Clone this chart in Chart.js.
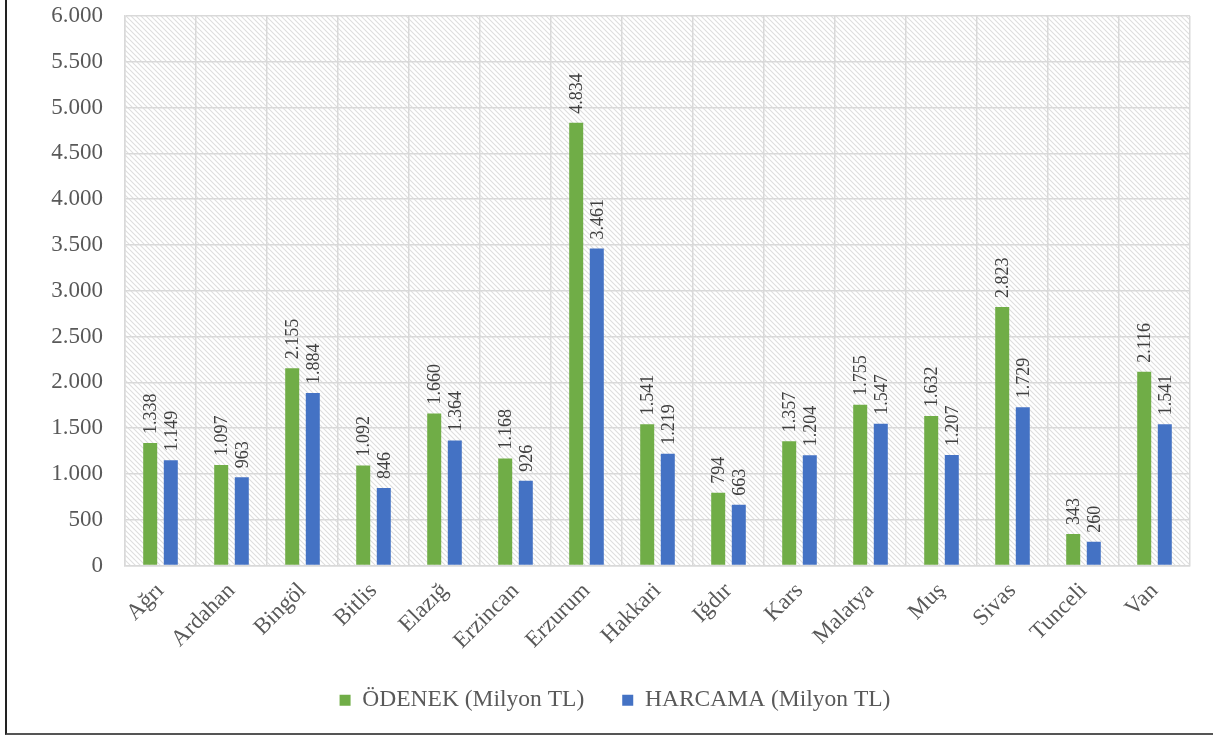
<!DOCTYPE html>
<html>
<head>
<meta charset="utf-8">
<script src="https://cdn.jsdelivr.net/npm/chart.js@4.4.1/dist/chart.umd.min.js"></script>
<style>
html,body{margin:0;padding:0;background:#fff}
#wrap{position:relative;width:1213px;height:736px;overflow:hidden}
#frame{position:absolute;left:5px;top:0;width:1230px;height:733px;border-left:2px solid #222;border-bottom:2px solid #555;pointer-events:none}
canvas{position:absolute;left:0;top:0}
</style>
</head>
<body>
<div id="wrap"><canvas id="c" width="1213" height="736"></canvas><div id="frame"></div></div>
<script>
// il listesi ve değerler (Milyon TL)
const ILLER=["Ağrı","Ardahan","Bingöl","Bitlis","Elazığ","Erzincan","Erzurum","Hakkari","Iğdır","Kars","Malatya","Muş","Sivas","Tunceli","Van"];
const ODENEK=[1338,1097,2155,1092,1660,1168,4834,1541,794,1357,1755,1632,2823,343,2116];
const HARCAMA=[1149,963,1884,846,1364,926,3461,1219,663,1204,1547,1207,1729,260,1541];
const Y_MAX=6000,Y_STEP=500;

const FONT="'Liberation Serif','Times New Roman',serif";
const GRID="#d9d9d9";

function tr(v){return String(v).replace(/\B(?=(\d{3})+(?!\d))/g,".")}

// hatched plot background
function hatch(ctx){
  const s=5,c=document.createElement("canvas");c.width=s;c.height=s;
  const g=c.getContext("2d");g.fillStyle="#fff";g.fillRect(0,0,s,s);
  g.strokeStyle="#dedede";g.lineWidth=1.1;
  g.beginPath();g.moveTo(-1,-1);g.lineTo(s+1,s+1);g.moveTo(-1,s-1);g.lineTo(1,s+1);g.moveTo(s-1,-1);g.lineTo(s+1,1);g.stroke();
  return ctx.createPattern(c,"repeat");
}
const bgPlug={id:"bg",beforeDraw(ch){const a=ch.chartArea,x=ch.ctx;x.save();x.fillStyle=hatch(x);x.fillRect(a.left,a.top,a.right-a.left,a.bottom-a.top);x.restore()}};

const lblPlug={id:"lbl",afterDatasetsDraw(ch){
  const x=ch.ctx;x.save();x.font="18px "+FONT;x.fillStyle="#404040";x.textAlign="left";x.textBaseline="middle";
  ch.data.datasets.forEach((d,i)=>{ch.getDatasetMeta(i).data.forEach((b,j)=>{
    x.save();x.translate(b.x,b.y-9);x.rotate(-Math.PI/2);x.fillText(tr(d.data[j]),0,1);x.restore()})});
  x.restore()}};

new Chart(document.getElementById("c"),{
  type:"bar",
  data:{labels:ILLER,datasets:[
    {label:"ÖDENEK (Milyon TL)",data:ODENEK,backgroundColor:"#70ad47",categoryPercentage:0.58,barPercentage:0.68},
    {label:"HARCAMA (Milyon TL)",data:HARCAMA,backgroundColor:"#4472c4",categoryPercentage:0.58,barPercentage:0.68}
  ]},
  options:{responsive:false,animation:false,
    layout:{padding:{left:40,right:23,top:0,bottom:14}},
    plugins:{tooltip:{enabled:false},
      legend:{position:"bottom",labels:{font:{family:FONT,size:23.5},color:"#595959",boxWidth:11,boxHeight:11,padding:38}}},
    scales:{
      x:{grid:{color:GRID,lineWidth:1.5,drawTicks:false},border:{color:GRID,width:1.5},
        ticks:{font:{family:FONT,size:23},color:"#595959",maxRotation:45,minRotation:45,autoSkip:false,padding:12},
        afterFit:s=>{s.height=85}},
      y:{min:0,max:Y_MAX,grid:{color:GRID,lineWidth:1.5,drawTicks:false},border:{color:GRID,width:1.5},
        ticks:{stepSize:Y_STEP,font:{family:FONT,size:23},color:"#595959",padding:22,callback:v=>tr(v)},
        afterFit:s=>{s.width=85;s.paddingTop=16}}
    }},
  plugins:[bgPlug,lblPlug]
});
</script>
</body>
</html>
